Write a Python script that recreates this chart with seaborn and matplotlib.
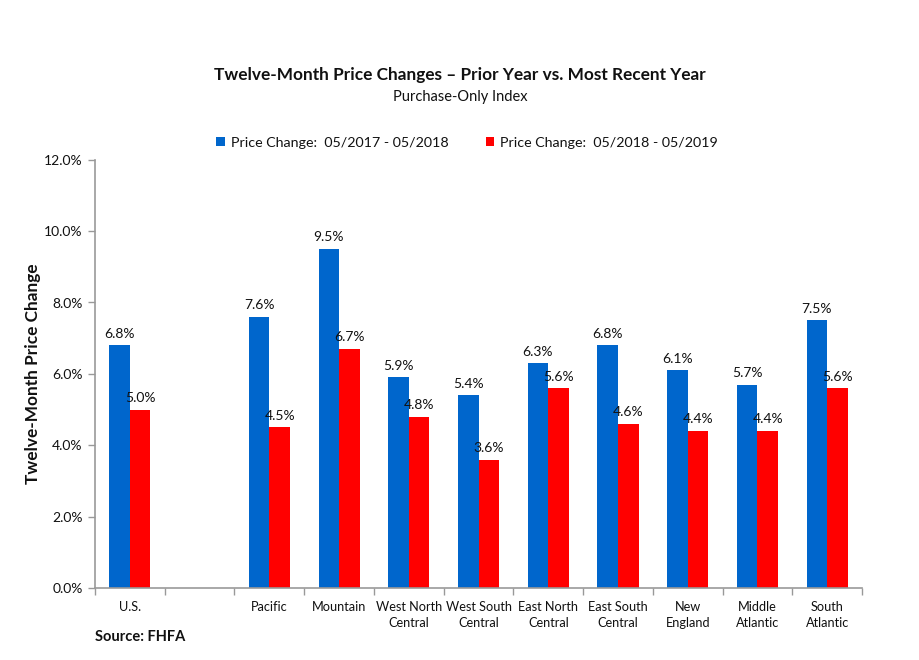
import numpy as np
import pandas as pd
import matplotlib
matplotlib.use("Agg")
import matplotlib.pyplot as plt
import seaborn as sns

regions = ["U.S.", " ", "Pacific", "Mountain", "West North\nCentral", "West South\nCentral",
           "East North\nCentral", "East South\nCentral", "New\nEngland", "Middle\nAtlantic",
           "South\nAtlantic"]
prior = [6.8, np.nan, 7.6, 9.5, 5.9, 5.4, 6.3, 6.8, 6.1, 5.7, 7.5]
recent = [5.0, np.nan, 4.5, 6.7, 4.8, 3.6, 5.6, 4.6, 4.4, 4.4, 5.6]
series_names = ["Price Change:  05/2017 - 05/2018", "Price Change:  05/2018 - 05/2019"]
yticks = [0, 2, 4, 6, 8, 10, 12]

sns.set_theme(style="white")
FONT = ["Lato", "DejaVu Sans"]
plt.rcParams["font.family"] = FONT

df = pd.DataFrame({
    "region": regions * 2,
    "series": [series_names[0]] * len(regions) + [series_names[1]] * len(regions),
    "value": prior + recent,
})

fig = plt.figure(figsize=(9.2, 6.6), dpi=100)
ax = fig.add_axes([0.1033, 0.109, 0.8337, 0.649])

sns.barplot(data=df, x="region", y="value", hue="series", order=regions,
            hue_order=series_names, palette=["#0066CC", "#FF0000"],
            width=0.59, saturation=1, ax=ax, legend=True, errorbar=None,
            linewidth=0, edgecolor="none")

for cont in ax.containers:
    for bar in cont:
        if bar is None:
            continue
        h = bar.get_height()
        if h is None or np.isnan(h):
            continue
        ax.annotate(f"{h:.1f}%", (bar.get_x() + bar.get_width() / 2, h),
                    xytext=(0, 4), textcoords="offset points", ha="center", va="bottom",
                    fontsize=10, color="#111111")

ax.set_ylim(0, 12)
ax.set_xlim(-0.5, len(regions) - 0.5)
ax.set_yticks(yticks)
ax.set_yticklabels([f"{v:.1f}%" for v in yticks], fontsize=10, color="#111111")
ax.set_xticks(range(len(regions)))
ax.set_xticklabels(regions, fontsize=9.2, linespacing=1.4, color="#111111")
ax.set_xticks(np.arange(-0.5, len(regions), 1), minor=True)
ax.tick_params(axis="x", which="major", length=0, pad=9)
ax.tick_params(axis="x", which="minor", length=5, width=1, color="#999999", direction="out")
ax.tick_params(axis="y", which="major", length=5, width=1, color="#999999", direction="out", pad=4)
ax.xaxis.set_ticks_position("bottom")
ax.yaxis.set_ticks_position("left")

for s in ["top", "right"]:
    ax.spines[s].set_visible(False)
for s in ["left", "bottom"]:
    ax.spines[s].set_color("#999999")
    ax.spines[s].set_linewidth(1.2)

ax.set_xlabel("")
ax.set_ylabel("Twelve-Month Price Change", fontsize=12.4, fontweight="bold", labelpad=2,
              color="#111111")

leg = ax.legend(loc="center", bbox_to_anchor=(0.485, 1.04), ncol=2, frameon=False,
                fontsize=10.3, handlelength=0.6, handleheight=0.6, handletextpad=0.4,
                columnspacing=2.6)
for t in leg.get_texts():
    t.set_color("#111111")

fig.text(0.5, 0.886, "Twelve-Month Price Changes \u2013 Prior Year vs. Most Recent Year",
         ha="center", va="center", fontsize=12.4, fontweight="bold", color="#111111")
fig.text(0.5, 0.853, "Purchase-Only Index", ha="center", va="center", fontsize=10.5,
         color="#111111")
fig.text(0.103, 0.035, "Source: FHFA", ha="left", va="center", fontsize=10.5,
         fontweight="bold", color="#111111")

fig.savefig("out.png", dpi=100)
